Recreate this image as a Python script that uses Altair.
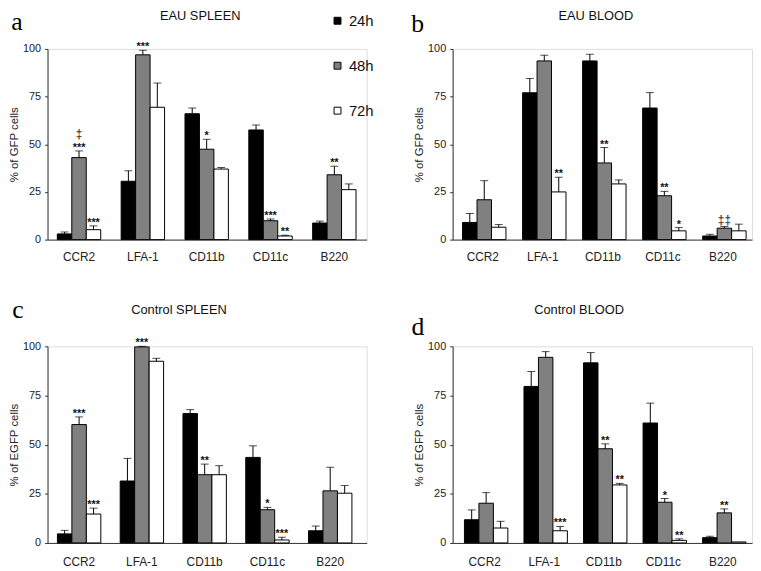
import altair as alt
import pandas as pd

markers = ["CCR2", "LFA-1", "CD11b", "CD11c", "B220"]
times = ["24h", "48h", "72h"]

# Panel a: EAU SPLEEN
a_24 = [3.0, 30.6, 66.0, 57.5, 8.7]
a_24_sd = [1.0, 5.5, 3.0, 2.6, 1.0]
a_48 = [43.0, 96.9, 47.4, 9.9, 34.0]
a_48_sd = [3.5, 2.4, 5.2, 0.9, 4.5]
a_72 = [5.2, 69.4, 37.0, 1.9, 26.2]
a_72_sd = [2.0, 12.7, 0.8, 0.4, 3.0]
a_48_sig = ["***", "***", "*", "***", "**"]
a_72_sig = ["***", "", "", "**", ""]
a_48_sym = ["‡", "", "", "", ""]

# Panel b: EAU BLOOD
b_24 = [9.0, 77.0, 93.7, 69.0, 1.9]
b_24_sd = [4.7, 7.5, 3.5, 8.1, 0.9]
b_48 = [20.9, 93.7, 40.2, 23.0, 6.0]
b_48_sd = [10.0, 3.0, 8.1, 2.3, 0.9]
b_72 = [6.5, 25.0, 29.2, 4.6, 4.6]
b_72_sd = [1.4, 7.7, 2.1, 1.7, 3.5]
b_48_sig = ["", "", "**", "**", ""]
b_72_sig = ["", "**", "", "*", ""]
b_48_sym = ["", "", "", "", "‡‡"]

# Panel c: Control SPLEEN
c_24 = [4.6, 31.5, 65.8, 43.5, 6.2]
c_24_sd = [1.8, 11.5, 2.0, 5.9, 2.4]
c_48 = [60.2, 99.7, 34.7, 16.9, 26.5]
c_48_sd = [3.9, 0.3, 5.4, 1.2, 12.0]
c_72 = [14.7, 92.4, 34.7, 1.5, 25.3]
c_72_sd = [3.0, 1.5, 4.6, 1.4, 3.9]
c_48_sig = ["***", "***", "**", "*", ""]
c_72_sig = ["***", "", "", "***", ""]

# Panel d: Control BLOOD
d_24 = [11.8, 79.6, 91.6, 61.0, 2.7]
d_24_sd = [5.0, 7.6, 5.2, 10.1, 0.7]
d_48 = [20.2, 94.4, 47.9, 20.7, 15.3]
d_48_sd = [5.4, 2.9, 2.5, 1.9, 2.0]
d_72 = [7.6, 6.2, 29.5, 1.3, 0.5]
d_72_sd = [3.4, 2.2, 0.8, 0.8, 0.0]
d_48_sig = ["", "", "**", "*", "**"]
d_72_sig = ["", "***", "**", "**", ""]

SANS = "Liberation Sans"
SERIF = "Liberation Serif"
blank = [""] * 5


def make_df(m24, s24, m48, s48, m72, s72, sig48, sig72, sym48=blank):
    rows = []
    for t, means, sds, sigs, syms in [
        ("24h", m24, s24, blank, blank),
        ("48h", m48, s48, sig48, sym48),
        ("72h", m72, s72, sig72, blank),
    ]:
        for mk, m, s, g, y in zip(markers, means, sds, sigs, syms):
            rows.append({"marker": mk, "time": t, "mean": m, "top": m + s,
                         "sd": s, "sig": g, "sym": y})
    return pd.DataFrame(rows)


def panel(df, title, tx, ty, letter, lx, ly, ytitle, width, height,
          pin, pout, align, legend, sym_dy, xlp):
    xenc = alt.X("marker:N", sort=markers,
                 scale=alt.Scale(paddingInner=pin, paddingOuter=pout, align=align),
                 axis=alt.Axis(title=None, labelAngle=0, ticks=False, labelFontSize=12,
                               labelFont=SANS, labelColor="#222", labelPadding=xlp,
                               domainColor="#333", domainWidth=1))
    xoff = alt.XOffset("time:N", sort=times,
                       scale=alt.Scale(paddingInner=0, paddingOuter=0))
    base = alt.Chart(df).encode(x=xenc, xOffset=xoff)
    yscale = alt.Scale(domain=[0, 100], nice=False)
    bars = base.mark_bar(stroke="black", strokeWidth=1).encode(
        y=alt.Y("mean:Q", scale=yscale,
                axis=alt.Axis(title=ytitle, values=[0, 25, 50, 75, 100], grid=False,
                              tickSize=3, tickColor="#333", labelFontSize=11,
                              labelFont=SANS, labelColor="#222", labelPadding=4,
                              titleFont=SANS, titleFontSize=11.5, titleFontWeight="normal",
                              titleColor="#222", titlePadding=3,
                              domainColor="#333")),
        color=alt.Color("time:N", sort=times,
                        scale=alt.Scale(domain=times,
                                        range=["#000000", "#808080", "#ffffff"]),
                        legend=legend),
    )
    err = base.transform_filter("datum.sd > 0")
    rules = err.mark_rule(color="black", strokeWidth=1).encode(
        y=alt.Y("mean:Q"), y2="top:Q")
    caps = err.mark_tick(color="black", size=8, thickness=1).encode(y="top:Q")
    sig = base.transform_filter("datum.sig != ''").mark_text(
        font=SANS, fontSize=11, fontWeight="bold", baseline="alphabetic",
        dy=0, color="#111").encode(y="top:Q", text="sig:N")
    sym = base.transform_filter("datum.sym != ''").mark_text(
        font=SANS, fontSize=12, baseline="alphabetic",
        dy=sym_dy, color="#111").encode(y="top:Q", text="sym:N")
    lab = alt.Chart(pd.DataFrame({"t": [letter]})).mark_text(
        font=SERIF, fontSize=26, align="center", baseline="alphabetic", color="black"
    ).encode(x=alt.value(lx), y=alt.value(ly), text="t:N")
    ttl = alt.Chart(pd.DataFrame({"t": [title]})).mark_text(
        font=SANS, fontSize=13, align="center", baseline="middle", color="#111"
    ).encode(x=alt.value(tx), y=alt.value(ty), text="t:N")
    return alt.layer(bars, rules, caps, sig, sym, lab, ttl).properties(
        width=width, height=height)


leg = alt.Legend(title=None, orient="none", legendX=286, legendY=-36, padding=0,
                 symbolType="square", symbolSize=49, symbolStrokeColor="black",
                 symbolStrokeWidth=1, labelFontSize=15, labelFont=SANS,
                 labelColor="#111", rowPadding=29.5, labelOffset=4)

pa = panel(make_df(a_24, a_24_sd, a_48, a_48_sd, a_72, a_72_sd, a_48_sig, a_72_sig, a_48_sym),
           "EAU SPLEEN", 154.5, -33, "a", -31, -19, "% of GFP cells", 323, 193,
           0.32, 0.16, 0.48, leg, -13, 12.5)
pb = panel(make_df(b_24, b_24_sd, b_48, b_48_sd, b_72, b_72_sd, b_48_sig, b_72_sig, b_48_sym),
           "EAU BLOOD", 145, -33, "b", -35.5, -17, "% of GFP cells", 303, 193,
           0.325, 0.156, 0.53, None, -2, 12.5)
pc = panel(make_df(c_24, c_24_sd, c_48, c_48_sd, c_72, c_72_sd, c_48_sig, c_72_sig),
           "Control SPLEEN", 133, -37, "c", -30, -29, "% of EGFP cells", 323, 199,
           0.31, 0.197, 0.4, None, -13, 14)
pd_ = panel(make_df(d_24, d_24_sd, d_48, d_48_sd, d_72, d_72_sd, d_48_sig, d_72_sig),
            "Control BLOOD", 128, -37, "d", -35, -11, "% of EGFP cells", 303, 199,
            0.32, 0.174, 0.57, None, -13, 14)

chart = alt.concat(pa, pb, pc, pd_, columns=2, align="each",
                   spacing={"row": 33, "column": 35}).resolve_scale(
    color="independent").resolve_legend(color="independent").properties(
    padding={"left": 0, "top": -3, "right": 0, "bottom": 0}
).configure_view(stroke=None).configure(background="white")

chart.save("out.html", embed_options={"renderer": "svg", "actions": False})
